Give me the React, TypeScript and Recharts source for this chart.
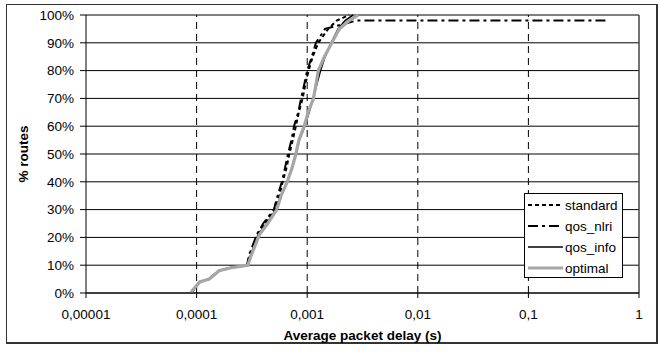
import React from 'react';
import { LineChart, Line, XAxis, YAxis, CartesianGrid, ReferenceLine, Legend, Label } from 'recharts';

// cumulative % of routes (y) and the delay (s) at which each level is reached (x)
const pctLevels = [0, 1, 4, 5, 8, 9, 10, 14, 21, 25, 30, 35, 40, 45, 50, 55, 60, 65, 70, 75, 80, 85, 90, 95, 98, 100];

const standardDelay = [8.9e-5, 9.2e-5, 1.07e-4, 1.3e-4, 1.6e-4, 2.0e-4, 2.85e-4, 3.05e-4, 3.55e-4, 4.1e-4, 5.1e-4, 5.6e-4, 6.0e-4, 6.5e-4, 6.9e-4, 7.4e-4, 7.9e-4, 8.4e-4, 9.1e-4, 9.6e-4, 1.03e-3, 1.12e-3, 1.26e-3, 1.55e-3, 1.85e-3, 2.4e-3];

const qosNlriPct = [0, 1, 4, 5, 8, 9, 10, 14, 21, 25, 30, 35, 40, 45, 50, 55, 60, 65, 70, 75, 80, 85, 90, 95, 98, 98];
const qosNlriDelay = [9.0e-5, 9.3e-5, 1.06e-4, 1.3e-4, 1.6e-4, 2.0e-4, 2.85e-4, 3.0e-4, 3.5e-4, 4.0e-4, 5.0e-4, 5.4e-4, 5.9e-4, 6.3e-4, 6.7e-4, 7.2e-4, 7.6e-4, 8.3e-4, 8.8e-4, 9.4e-4, 1.0e-3, 1.1e-3, 1.2e-3, 1.45e-3, 2.8e-3, 0.5];

const qosInfoDelay = [8.9e-5, 9.4e-5, 1.05e-4, 1.28e-4, 1.58e-4, 1.95e-4, 2.88e-4, 3.1e-4, 3.6e-4, 4.3e-4, 5.2e-4, 5.8e-4, 6.6e-4, 7.3e-4, 7.9e-4, 8.5e-4, 9.5e-4, 1.04e-3, 1.13e-3, 1.22e-3, 1.32e-3, 1.45e-3, 1.65e-3, 1.9e-3, 2.2e-3, 2.6e-3];

const optimalDelay = [8.9e-5, 9.2e-5, 1.07e-4, 1.3e-4, 1.6e-4, 2.0e-4, 2.9e-4, 3.15e-4, 3.7e-4, 4.4e-4, 5.3e-4, 5.8e-4, 6.6e-4, 7.3e-4, 7.9e-4, 8.4e-4, 9.4e-4, 1.02e-3, 1.14e-3, 1.2e-3, 1.26e-3, 1.43e-3, 1.67e-3, 1.95e-3, 2.4e-3, 2.9e-3];

const xTicks = [0.00001, 0.0001, 0.001, 0.01, 0.1, 1];
const xTickLabels = ['0,00001', '0,0001', '0,001', '0,01', '0,1', '1'];
const dashedDecades = [0.0001, 0.001, 0.01, 0.1];
const yTicks = [0, 10, 20, 30, 40, 50, 60, 70, 80, 90, 100];

const toPoints = (xs: number[], ys: number[]) => xs.map((x, i) => ({ x, y: ys[i] }));

const series = [
  { name: 'standard', data: toPoints(standardDelay, pctLevels), stroke: '#000', width: 2, dash: '4 3' },
  { name: 'qos_nlri', data: toPoints(qosNlriDelay, qosNlriPct), stroke: '#000', width: 2, dash: '10 4 3 4' },
  { name: 'qos_info', data: toPoints(qosInfoDelay, pctLevels), stroke: '#000', width: 1.6, dash: undefined },
  { name: 'optimal', data: toPoints(optimalDelay, pctLevels), stroke: '#a6a6a6', width: 3.2, dash: undefined },
];

const FONT = '"Liberation Sans", Arial, sans-serif';

const LegendBox = () => (
  <svg width={100} height={86} style={{ display: 'block', fontFamily: FONT }}>
    <rect x={0.5} y={0.5} width={98} height={84} fill="#fff" stroke="#000" strokeWidth={1} />
    {series.map((s, i) => (
      <g key={s.name}>
        <line x1={4} x2={39} y1={12 + i * 21} y2={12 + i * 21} stroke={s.stroke} strokeWidth={s.width} strokeDasharray={s.dash} />
        <text x={41} y={12 + i * 21} dominantBaseline="central" fontSize={13.5} fill="#000">{s.name}</text>
      </g>
    ))}
  </svg>
);

const YTitle = (props: any) => {
  const vb = props.viewBox || { x: 6, y: 15, width: 80, height: 278 };
  const cx = vb.x + 17.5;
  const cy = vb.y + vb.height / 2;
  return (
    <text x={cx} y={cy} transform={`rotate(-90 ${cx} ${cy})`} textAnchor="middle" dominantBaseline="central"
      fontSize={13.5} fontWeight="bold" fill="#000" fontFamily={FONT}>% routes</text>
  );
};

export default function App() {
  return (
    <div style={{ position: 'absolute', left: 0, top: 0, width: 659, height: 354, background: '#fff', fontFamily: FONT }}>
      <div style={{ position: 'absolute', left: 6, top: 4, width: 649, height: 337, borderTop: '1px solid #333', borderLeft: '1px solid #333', borderRight: '2px solid #333', borderBottom: '2px solid #333' }} />
      <LineChart width={659} height={354} margin={{ top: 15, right: 20, bottom: 0, left: 6 }} style={{ fontFamily: FONT }}>
        <CartesianGrid horizontal={true} vertical={false} stroke="#000" strokeWidth={1} />
        <XAxis
          dataKey="x"
          type="number"
          scale="log"
          domain={[0.00001, 1]}
          ticks={xTicks}
          allowDataOverflow
          height={61}
          tickSize={5}
          tickMargin={11}
          stroke="#000"
          tick={{ fill: '#000', fontSize: 13.5 }}
          tickFormatter={(v: number) => xTickLabels[xTicks.findIndex((t) => Math.abs(t - v) < t * 1e-6)] ?? String(v)}
        >
          <Label value="Average packet delay (s)" position="insideBottom" offset={14} style={{ fontWeight: 'bold', fontSize: 13.5, fill: '#000' }} />
        </XAxis>
        <YAxis
          dataKey="y"
          type="number"
          domain={[0, 100]}
          ticks={yTicks}
          width={80}
          tickSize={6}
          tickMargin={6}
          stroke="#000"
          tick={{ fill: '#000', fontSize: 13.5 }}
          tickFormatter={(v: number) => `${v}%`}
          label={<YTitle />}
        />
        {dashedDecades.map((d) => (
          <ReferenceLine key={d} x={d} stroke="#000" strokeDasharray="7 5" strokeWidth={1} />
        ))}
        <ReferenceLine x={1} stroke="#444" strokeWidth={1.5} />
        {series.map((s) => (
          <Line
            key={s.name}
            data={s.data}
            dataKey="y"
            name={s.name}
            type="linear"
            stroke={s.stroke}
            strokeWidth={s.width}
            strokeDasharray={s.dash}
            dot={false}
            activeDot={false}
            isAnimationActive={false}
          />
        ))}
        <Legend
          layout="vertical"
          align="center"
          verticalAlign="middle"
          content={<LegendBox />}
          wrapperStyle={{ left: 524, top: 193, width: 100, height: 86 }}
        />
      </LineChart>
    </div>
  );
}
